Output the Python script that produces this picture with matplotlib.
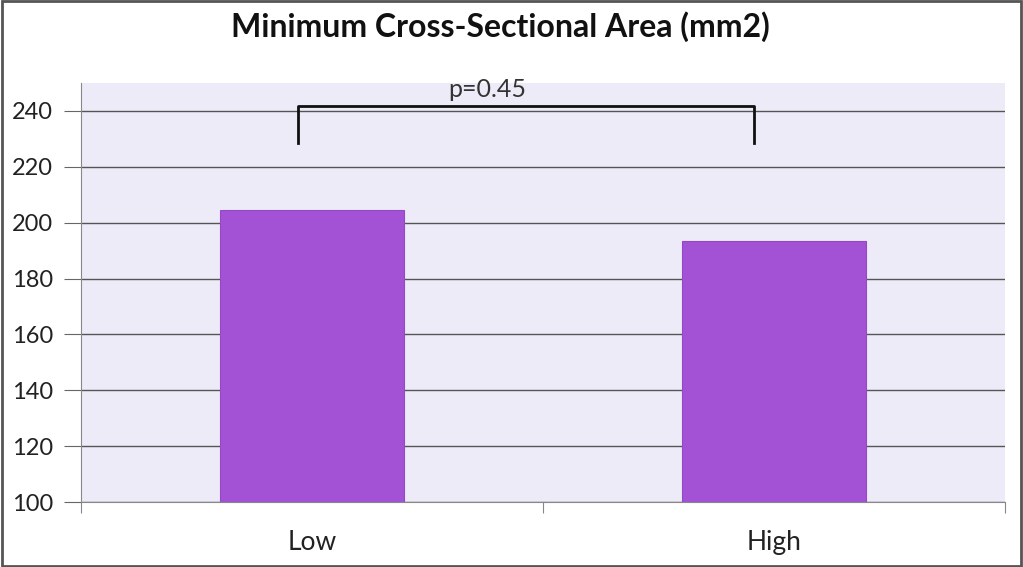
import matplotlib.pyplot as plt
import matplotlib
from matplotlib.patches import Rectangle

matplotlib.rcParams['font.family'] = ['Lato', 'DejaVu Sans']

categories = ['Low', 'High']
values = [204.6, 193.6]
p_label = 'p=0.45'
y_ticks = [100, 120, 140, 160, 180, 200, 220, 240]

fig = plt.figure(figsize=(10.23, 5.67), dpi=100)
ax = fig.add_axes([0.0792, 0.1146, 0.9032, 0.739])
ax.set_facecolor('#edebf8')

x = range(len(categories))
ax.bar(x, [v - 100 for v in values], bottom=100, width=0.4,
       color='#a352d6', edgecolor='#9448c8', linewidth=0.8, zorder=3)

ax.set_xlim(-0.5, 1.5)
ax.set_ylim(100, 250)
ax.set_yticks(y_ticks)
ax.set_yticklabels([str(t) for t in y_ticks], fontsize=17, color='#222222')
ax.set_xticks([-0.5, 0.5, 1.5])
ax.set_xticklabels([])
ax.set_xticks(list(x), minor=True)
ax.set_xticklabels(categories, minor=True, fontsize=19, color='#222222')
ax.tick_params(axis='x', which='minor', length=0, pad=20)
ax.tick_params(axis='x', which='major', length=8, color='#888888')
ax.tick_params(axis='y', length=12, color='#666666', pad=8)
ax.yaxis.grid(True, color='#555555', linewidth=1.0, zorder=0)
for s in ['top', 'right']:
    ax.spines[s].set_visible(False)
ax.spines['left'].set_color('#888888')
ax.spines['bottom'].set_color('#888888')

# significance bracket
bx = [-0.03, -0.03, 0.957, 0.957]
by = [228.6, 241.8, 241.8, 228.6]
ax.plot(bx, by, color='#111111', linewidth=2, zorder=4, clip_on=False)
ax.text(0.38, 243.5, p_label, ha='center', va='bottom', fontsize=18, color='#333333')

fig.suptitle('Minimum Cross-Sectional Area (mm2)', x=0.489, y=0.98,
             fontsize=23, fontweight='bold', color='#111111')

fig.patches.append(Rectangle((0.002, 0.002), 0.996, 0.996, transform=fig.transFigure,
                             fill=False, edgecolor='#555555', linewidth=2))

fig.savefig('out.png', dpi=100)
